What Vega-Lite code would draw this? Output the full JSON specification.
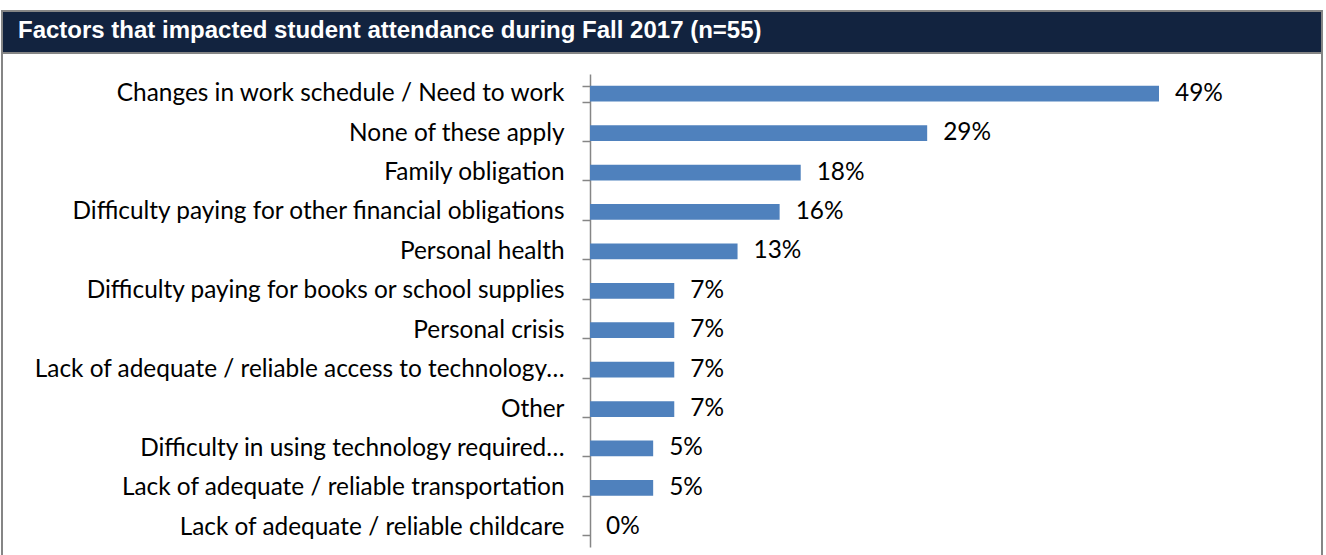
{
  "$schema": "https://vega.github.io/schema/vega-lite/v6.json",
  "padding": {"left": 0, "top": 9, "right": 0, "bottom": 0},
  "background": "white",
  "spacing": 0,
  "bounds": "flush",
  "config": {
    "concat": {"spacing": 0},
    "font": "Lato"
  },
  "vconcat": [
    {
      "width": 1320,
      "height": 42,
      "view": {"fill": "#12233f", "stroke": "#858585", "strokeWidth": 2},
      "title": {
        "text": "Factors that impacted student attendance during Fall 2017 (n=55)",
        "anchor": "start",
        "frame": "group",
        "orient": "top",
        "offset": -33,
        "dx": 16,
        "font": "Liberation Sans",
        "fontSize": 24,
        "fontWeight": "bold",
        "color": "white"
      },
      "data": {"values": [{"t": "header"}]},
      "mark": {"type": "rect", "fill": "#12233f", "stroke": "#858585", "strokeWidth": 2},
      "encoding": {}
    },
    {
      "width": 1320,
      "height": 515,
      "view": {"stroke": "#858585", "strokeWidth": 2},
      "data": {
        "values": [
          {"factor": "Changes in work schedule / Need to work", "share": 0.4909},
          {"factor": "None of these apply", "share": 0.2909},
          {"factor": "Family obligation", "share": 0.1818},
          {"factor": "Difficulty paying for other financial obligations", "share": 0.1636},
          {"factor": "Personal health", "share": 0.1273},
          {"factor": "Difficulty paying for books or school supplies", "share": 0.0727},
          {"factor": "Personal crisis", "share": 0.0727},
          {"factor": "Lack of adequate / reliable access to technology…", "share": 0.0727},
          {"factor": "Other", "share": 0.0727},
          {"factor": "Difficulty in using technology required…", "share": 0.0545},
          {"factor": "Lack of adequate / reliable transportation", "share": 0.0545},
          {"factor": "Lack of adequate / reliable childcare", "share": 0}
        ]
      },
      "encoding": {
        "y": {
          "field": "factor",
          "type": "nominal",
          "sort": null,
          "scale": {"range": [21, 494], "paddingInner": 0.6, "paddingOuter": 0.3},
          "axis": {
            "title": null,
            "orient": "left",
            "offset": -588,
            "tickBand": "extent",
            "tickSize": 8,
            "tickColor": "#868686",
            "tickWidth": 1.5,
            "domainColor": "#868686",
            "domainWidth": 1.5,
            "labelPadding": 18,
            "labelLimit": 0,
            "labelFont": "Lato",
            "labelFontSize": 24.4,
            "labelColor": "black"
          }
        },
        "x": {
          "field": "share",
          "type": "quantitative",
          "scale": {"domain": [0, 0.4909], "range": [588, 1157], "nice": false},
          "axis": null
        }
      },
      "layer": [
        {"mark": {"type": "bar", "color": "#4f81bd"}},
        {
          "mark": {"type": "text", "align": "left", "baseline": "middle", "dx": 16, "font": "Lato", "fontSize": 24.4, "color": "black"},
          "encoding": {"text": {"field": "share", "type": "quantitative", "format": ".0%"}}
        }
      ]
    }
  ]
}
